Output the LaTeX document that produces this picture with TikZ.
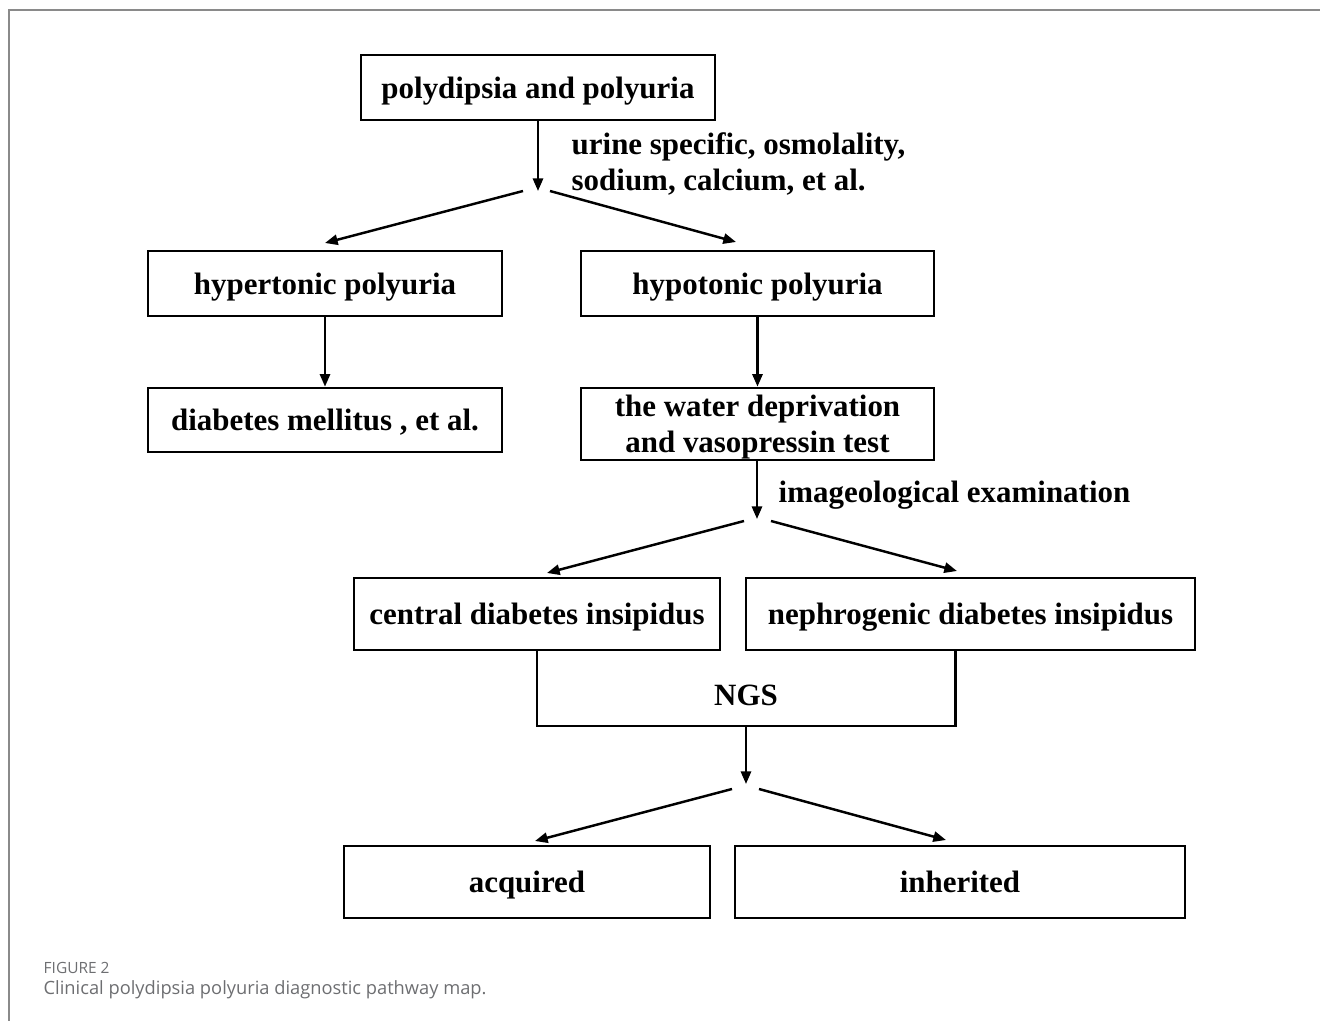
\documentclass[tikz,border=0pt]{standalone}
\usepackage{fontspec}
\setmainfont{Liberation Serif}
\newfontfamily\capfont{Open Sans}
\usetikzlibrary{arrows.meta}
\definecolor{framegray}{HTML}{8A8A8A}
\definecolor{capgray}{HTML}{6D6E71}
\tikzset{
  box/.style={draw, line width=0.75pt, inner sep=0pt, align=center,
    text height=7pt, text depth=1pt,
    font=\fontsize{8.8}{10.24}\selectfont\bfseries},
  lbl/.style={inner sep=0pt, align=left, anchor=base west,
    font=\fontsize{8.8}{10.24}\selectfont\bfseries},
  arr/.style={line width=0.7pt, -{Triangle[length=3.6pt,width=2.9pt]}},
  ln/.style={line width=0.7pt}
}
\begin{document}
\begin{tikzpicture}[x=0.01cm,y=-0.01cm]
\useasboundingbox (0,0) rectangle (1320,1021);
% frame
\draw[framegray, line width=0.5pt] (1320,10) -- (9,10) -- (9,1021);
% boxes
\node[box, minimum width=3.54cm, minimum height=0.65cm] (pp) at (538,87.5) {polydipsia and polyuria};
\node[box, minimum width=3.54cm, minimum height=0.65cm] (hyper) at (325,283.5) {hypertonic polyuria};
\node[box, minimum width=3.53cm, minimum height=0.65cm] (hypo) at (757.5,283.5) {hypotonic polyuria};
\node[box, minimum width=3.54cm, minimum height=0.64cm] (dm) at (325,420) {diabetes mellitus , et al.};
\node[box, text height=17.2pt, text depth=1.2pt, minimum width=3.53cm, minimum height=0.72cm] (wd) at (757.5,424) {the water deprivation\\and vasopressin test};
\node[box, minimum width=3.66cm, minimum height=0.72cm] (cdi) at (537,614) {central diabetes insipidus};
\node[box, minimum width=4.49cm, minimum height=0.72cm] (ndi) at (970.5,614) {nephrogenic diabetes insipidus};
\node[box, minimum width=3.66cm, minimum height=0.72cm] (acq) at (527,882) {acquired};
\node[box, minimum width=4.50cm, minimum height=0.72cm] (inh) at (960,882) {inherited};
% branch points and arrow ends
\coordinate (b1) at (538,191);
\coordinate (b1l) at (523,191);
\coordinate (b1r) at (550,191);
\coordinate (e1l) at (325,243);
\coordinate (e1r) at (736,242);
\coordinate (b2) at (757,519);
\coordinate (b2l) at (744,521);
\coordinate (b2r) at (771,521);
\coordinate (e2l) at (547,573);
\coordinate (e2r) at (957,571);
\coordinate (b3) at (746,784);
\coordinate (b3l) at (732,789);
\coordinate (b3r) at (759,789);
\coordinate (e3l) at (535,841);
\coordinate (e3r) at (946,840);
\coordinate (ngsL) at (537,726);
\coordinate (ngsR) at (955.5,726);
% labels
\node[lbl] (l1) at (571,154) {urine specific, osmolality,};
\node[lbl] (l2) at (571,190) {sodium,\ calcium, et al.};
\node[lbl] (l3) at (778,502) {imageological examination};
\node[lbl, anchor=base] (ngs) at (746,705) {NGS};
% connectors
\draw[arr] (pp.south) -- (b1);
\draw[arr] (b1l) -- (e1l);
\draw[arr] (b1r) -- (e1r);
\draw[arr] (hyper.south) -- (dm.north);
\draw[arr] (hypo.south) -- (wd.north);
\draw[arr] (wd.south -| b2) -- (b2);
\draw[arr] (b2l) -- (e2l);
\draw[arr] (b2r) -- (e2r);
\draw[ln] (cdi.south) -- (ngsL) -- (ngsR) -- (ngsR |- ndi.south);
\draw[arr] (b3 |- ngsL) -- (b3);
\draw[arr] (b3l) -- (e3l);
\draw[arr] (b3r) -- (e3r);
% caption
\node[inner sep=0pt, anchor=west, text=capgray, font=\capfont\fontsize{4.4}{5.3}\selectfont] (cap1) at (43,968) {FIGURE 2};
\node[inner sep=0pt, anchor=west, text=capgray, font=\capfont\fontsize{5.2}{6.2}\selectfont] (cap2) at (43,990) {Clinical polydipsia polyuria diagnostic pathway map.};
\end{tikzpicture}
\end{document}
